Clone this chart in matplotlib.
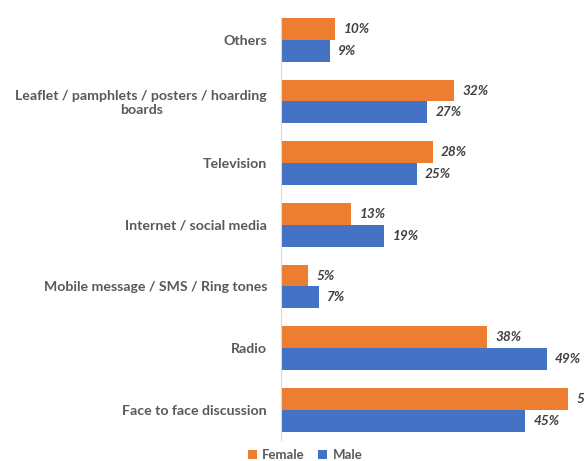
import numpy as np
import matplotlib.pyplot as plt

# Source of information, by sex (%)
categories = ["Others",
              "Leaflet / pamphlets / posters / hoarding\nboards",
              "Television",
              "Internet / social media",
              "Mobile message / SMS / Ring tones",
              "Radio",
              "Face to face discussion"]
female = [10, 32, 28, 13, 5, 38, 53]
male = [9, 27, 25, 19, 7, 49, 45]

ORANGE = "#ED7D31"
BLUE = "#4472C4"

plt.rcParams['font.family'] = ['Lato', 'DejaVu Sans']

fig = plt.figure(figsize=(5.84, 4.61), dpi=100)
ax = fig.add_axes([281/584, 21/461, 1 - 281/584, 423/461])

y = np.arange(len(categories))
h = 0.355
bf = ax.barh(y - h/2, female, height=h, color=ORANGE, label="Female")
bm = ax.barh(y + h/2, male, height=h, color=BLUE, label="Male")

for bars, vals in ((bf, female), (bm, male)):
    for b, v in zip(bars, vals):
        ax.annotate(f"{v}%", (b.get_width(), b.get_y() + b.get_height()/2),
                    xytext=(6, 0), textcoords="offset points",
                    va="center", ha="left", fontsize=9.8, fontweight="bold",
                    fontstyle="italic", color="#404040", annotation_clip=False)

ax.set_xlim(0, 55.9)
ax.set_ylim(len(categories) - 1 + 0.49, -0.37)
ax.set_yticks(y)
ax.set_yticklabels(categories, fontsize=10.2, fontweight="bold", color="#595959",
                   ha="right", multialignment="center")
ax.tick_params(axis="y", length=0, pad=10)
ax.set_xticks([])
for s in ("top", "right", "bottom"):
    ax.spines[s].set_visible(False)
ax.spines["left"].set_color("#D9D9D9")

fig.legend(handles=[bf, bm], loc="center", bbox_to_anchor=(305/584, 1 - 455/461),
           ncol=2, frameon=False, handlelength=0.7, handleheight=0.7,
           columnspacing=1.0, handletextpad=0.4,
           prop={"weight": "bold", "size": 9.5})
for t in fig.legends[0].get_texts():
    t.set_color("#595959")

fig.savefig("out.png", dpi=100)
